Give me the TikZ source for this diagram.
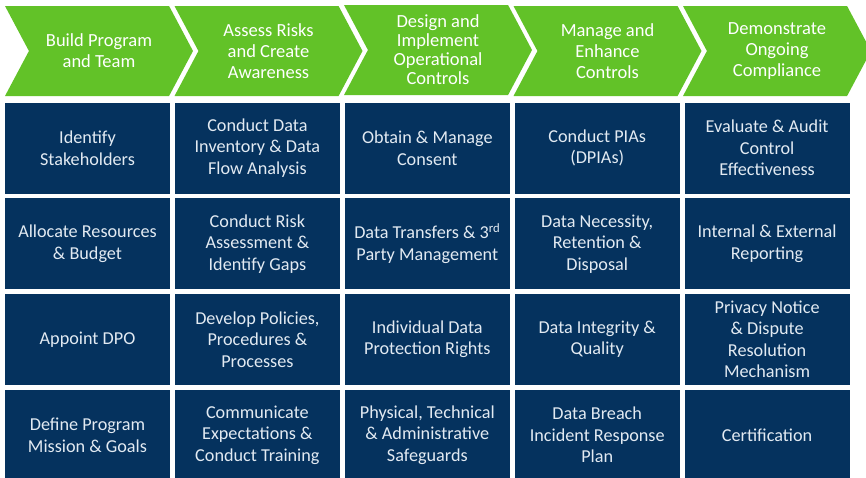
\documentclass[tikz,border=0pt]{standalone}
\usepackage{fontspec}
\setmainfont{Carlito}
\usetikzlibrary{shapes.symbols,positioning}
\definecolor{phasegreen}{RGB}{98,194,40}
\definecolor{taskblue}{RGB}{5,50,94}
\definecolor{tasktext}{RGB}{226,234,242}

\begin{document}
\begin{tikzpicture}[x=1pt,y=-1pt,node distance=4.3pt and 4.5pt,
  phase/.style={signal, signal from=west, signal to=east, signal pointer angle=124,
    fill=phasegreen, minimum width=188pt, minimum height=90pt, inner sep=0pt,
    text=white, align=center, font=\fontsize{18.5}{21}\selectfont},
  task/.style={rectangle, fill=taskblue, minimum width=165pt, minimum height=91pt,
    inner sep=2pt, text=tasktext, align=center, font=\fontsize{18.2}{21.5}\selectfont}]
\useasboundingbox (0,0) rectangle (866,477);

% phases
\node[phase] (build) at (99,51) {Build Program\\and Team};
\node[phase] (assess) at (268.5,51) {Assess Risks\\and Create\\Awareness};
\node[phase] (design) at (438,50) {Design and\\[-2pt]Implement\\[-2pt]Operational\\[-2pt]Controls};
\node[phase] (manage) at (607.5,51) {Manage and\\Enhance\\Controls};
\node[phase] (demo) at (777,51) {Demonstrate\\Ongoing\\Compliance};

% first row
\node[task] (stake) at (87.5,148) {Identify\\Stakeholders};
\node[task, right=of stake] (invent) {Conduct Data\\Inventory \& Data\\Flow Analysis};
\node[task, right=of invent] (consent) {Obtain \& Manage\\Consent};
\node[task, right=of consent] (pia) {Conduct PIAs\\(DPIAs)};
\node[task, right=of pia] (audit) {Evaluate \& Audit\\Control\\Effectiveness};

% second row
\node[task, below=of stake] (budget) {Allocate Resources\\\& Budget};
\node[task, right=of budget] (risk) {Conduct Risk\\Assessment \&\\Identify Gaps};
\node[task, right=of risk] (transfer) {Data Transfers \& 3\textsuperscript{rd}\\Party Management};
\node[task, right=of transfer] (retain) {Data Necessity,\\Retention \&\\Disposal};
\node[task, right=of retain] (report) {Internal \& External\\Reporting};

% third row
\node[task, below=of budget] (dpo) {Appoint DPO};
\node[task, right=of dpo] (policy) {Develop Policies,\\Procedures \&\\Processes};
\node[task, right=of policy] (rights) {Individual Data\\Protection Rights};
\node[task, right=of rights] (quality) {Data Integrity \&\\Quality};
\node[task, right=of quality] (notice) {Privacy Notice\\\& Dispute\\Resolution\\Mechanism};

% fourth row
\node[task, below=of dpo] (mission) {Define Program\\Mission \& Goals};
\node[task, right=of mission] (train) {Communicate\\Expectations \&\\Conduct Training};
\node[task, right=of train] (safe) {Physical, Technical\\\& Administrative\\Safeguards};
\node[task, right=of safe] (breach) {Data Breach\\Incident Response\\Plan};
\node[task, right=of breach] (cert) {Certification};
\end{tikzpicture}
\end{document}
